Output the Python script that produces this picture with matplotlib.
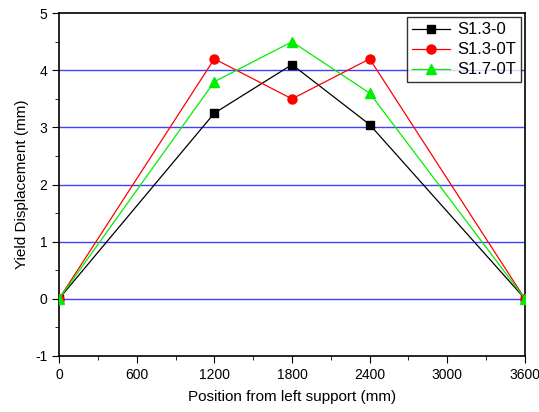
import matplotlib
matplotlib.use('Agg')
import matplotlib.pyplot as plt
from matplotlib.ticker import MultipleLocator

plt.rcParams['font.family'] = ['Liberation Sans', 'DejaVu Sans']
plt.rcParams['axes.unicode_minus'] = False

position = [0, 1200, 1800, 2400, 3600]
s13_0 = [0, 3.25, 4.1, 3.05, 0]
s13_0t = [0, 4.2, 3.5, 4.2, 0]
s17_0t = [0, 3.8, 4.5, 3.6, 0]

fig = plt.figure(figsize=(5.39, 4.12), dpi=100)
ax = fig.add_axes([0.1095, 0.136, 0.8645, 0.832])

for y in [0, 1, 2, 3, 4]:
    ax.axhline(y, color='#4040ff', lw=1.0, zorder=1)

ax.plot(position, s13_0, color='black', marker='s', ms=5.5, lw=0.9, label='S1.3-0', zorder=3)
ax.plot(position, s13_0t, color='red', marker='o', ms=6.5, lw=0.9, label='S1.3-0T', zorder=3)
ax.plot(position, s17_0t, color='#00ee00', marker='^', ms=6.5, lw=0.9, label='S1.7-0T', zorder=3)

ax.set_xlim(0, 3600)
ax.set_ylim(-1, 5)
ax.set_xticks(range(0, 3601, 600))
ax.xaxis.set_minor_locator(MultipleLocator(300))
ax.set_yticks(range(-1, 6))
ax.yaxis.set_minor_locator(MultipleLocator(0.5))
ax.tick_params(which='both', direction='out', top=False, right=False, labelsize=10)
ax.tick_params(which='major', length=5)
ax.tick_params(which='minor', length=3)
for sp in ax.spines.values():
    sp.set_linewidth(1.2)

ax.set_xlabel('Position from left support (mm)', fontsize=11, labelpad=6)
ax.set_ylabel('Yield Displacement (mm)', fontsize=11, labelpad=4)

leg = ax.legend(loc='upper right', fontsize=12, frameon=True, fancybox=False,
                edgecolor='black', handlelength=2.3, borderaxespad=0.25,
                labelspacing=0.3, handletextpad=0.4, borderpad=0.3)
leg.get_frame().set_linewidth(1.0)

fig.savefig('out.png', dpi=100)
